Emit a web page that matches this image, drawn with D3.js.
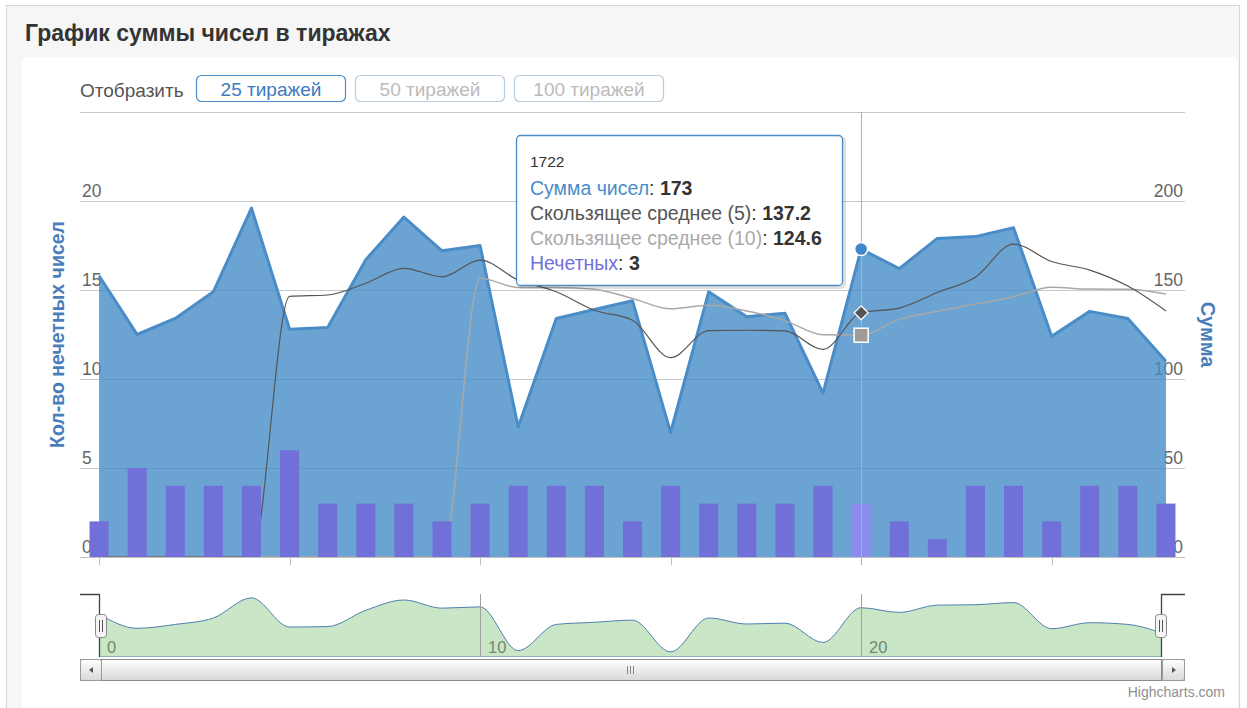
<!DOCTYPE html>
<html><head><meta charset="utf-8">
<script src="https://cdn.jsdelivr.net/npm/d3@7"></script>
<style>
html,body{margin:0;padding:0;background:#fff;}
svg{display:block;font-family:"Liberation Sans",Arial,sans-serif;}
</style></head><body>
<svg id="c" width="1247" height="708"></svg>
<script>
// ---- data ----
const draws = [1702,1703,1704,1705,1706,1707,1708,1709,1710,1711,1712,1713,1714,1715,1716,1717,1718,1719,1720,1721,1722,1723,1724,1725,1726,1727,1728,1729,1730];
const sums  = [158,125,134,149,196,128,129,167,191,172,175,73,134,139,144,70,149,135,137,92,173,162,179,180,185,124,138,134,110];
const odd   = [2,5,4,4,4,6,3,3,3,2,3,4,4,4,2,4,3,3,3,4,3,2,1,4,4,2,4,4,3];
const sma5  = [0,0,0,0,0,146.4,147.2,153.8,162.2,157.4,166.8,155.6,149,138.6,133,112,127.2,127.4,127,116.6,137.2,139.8,148.6,157.2,175.8,166,161.2,152.2,138.2];
const sma10 = [0,0,0,0,0,0,0,0,0,0,156.6,151.4,151.4,150.4,145.2,139.4,141.4,138.2,132.8,124.8,124.6,133.5,138,142.1,146.2,151.6,150.5,150.4,147.7];
const leftTicks  = [0,5,10,15,20,25];
const rightTicks = [0,50,100,150,200,250];
const xTicks   = [0,5,10,15,20,25];
const navTicks = [0,10,20];
const buttons  = ["25 тиражей","50 тиражей","100 тиражей"];
const seriesNames = ["Сумма чисел","Скользящее среднее (5)","Скользящее среднее (10)","Нечетных"];
const hoverIndex = 20;

// ---- layout ----
const svg = d3.select("#c");
const PL=80, PR=1185, PT=112, PB=557;
const C = {area:"#4a8cc8", areaFill:"rgb(70,140,200)", bar:"#7070d8", barHover:"#8c8cf0", sma5:"#555555", sma10:"#a8a8a8", grid:"#c8c8c8", label:"#666666", title:"#4a7ebb"};

// background frame
svg.append("rect").attr("x",0).attr("y",0).attr("width",1247).attr("height",708).attr("fill","#ffffff");
svg.append("rect").attr("x",6.5).attr("y",5.5).attr("width",1233).attr("height",710).attr("fill","#f6f6f6").attr("stroke","#d6d6d6");
svg.append("rect").attr("x",22).attr("y",57).attr("width",1216).attr("height",660).attr("rx",6).attr("fill","#ffffff");
svg.append("text").attr("x",25).attr("y",41).attr("font-size",23).attr("font-weight","bold").attr("fill","#333").text("График суммы чисел в тиражах");

// buttons
svg.append("text").attr("x",80).attr("y",97).attr("font-size",19).attr("fill","#555").text("Отобразить");
const bx = [196,355,514];
buttons.forEach((b,i)=>{
  const g = svg.append("g");
  g.append("rect").attr("x",bx[i]+0.5).attr("y",75.5).attr("width",149).attr("height",26).attr("rx",5)
    .attr("fill","#fff").attr("stroke", i===0?"#4a8cc8":"#b9cbdc").attr("stroke-width",1.2);
  g.append("text").attr("x",bx[i]+75).attr("y",95.5).attr("text-anchor","middle").attr("font-size",19)
    .attr("fill", i===0?"#3d7bbf":"#bbbbbb").text(b);
});

// scales
const x = d3.scaleLinear().domain([-0.5, draws.length-0.5]).range([PL,PR]);
const yL = d3.scaleLinear().domain([0,25]).range([PB,PT]);
const yR = d3.scaleLinear().domain([0,250]).range([PB,PT]);

// grid
const grid = svg.append("g");
leftTicks.forEach(t=>{
  grid.append("line").attr("x1",PL).attr("x2",PR).attr("y1",Math.round(yL(t))+0.5).attr("y2",Math.round(yL(t))+0.5)
    .attr("stroke",C.grid).attr("stroke-width",1);
});
// axis labels
leftTicks.filter(t=>t<25).forEach(t=>{
  svg.append("text").attr("x",82).attr("y",yL(t)-4).attr("font-size",17.5).attr("fill",C.label).text(t);
});
rightTicks.filter(t=>t<250).forEach(t=>{
  svg.append("text").attr("x",1183).attr("y",yR(t)-4).attr("text-anchor","end").attr("font-size",17.5).attr("fill",C.label).text(t);
});

// x ticks
xTicks.forEach(t=>{
  svg.append("line").attr("x1",Math.round(x(t))+0.5).attr("x2",Math.round(x(t))+0.5).attr("y1",PB).attr("y2",PB+8)
    .attr("stroke","#c0c0c0");
});

// area (sum)
const area = d3.area().x((d,i)=>x(i)).y0(PB).y1(d=>yR(d));
svg.append("path").datum(sums).attr("d",area).attr("fill",C.areaFill).attr("fill-opacity",0.8);
svg.append("path").datum(sums).attr("d",d3.line().x((d,i)=>x(i)).y(d=>yR(d)))
  .attr("fill","none").attr("stroke",C.area).attr("stroke-width",3).attr("stroke-linejoin","round");

// moving averages
const sline = d3.line().x((d,i)=>x(i)).y(d=>yR(d)).curve(d3.curveMonotoneX);
svg.append("path").datum(sma10).attr("d",sline).attr("fill","none").attr("stroke",C.sma10).attr("stroke-width",1.5);
svg.append("path").datum(sma5).attr("d",sline).attr("fill","none").attr("stroke",C.sma5).attr("stroke-width",1.2);

// bars
const bw = 19;
svg.append("g").selectAll("rect").data(odd).join("rect")
  .attr("x",(d,i)=>x(i)-bw/2).attr("width",bw)
  .attr("y",d=>yL(d)).attr("height",d=>PB-yL(d))
  .attr("fill",(d,i)=>i===hoverIndex?C.barHover:C.bar);

// x axis line
svg.append("line").attr("x1",PL).attr("x2",PR).attr("y1",PB+0.5).attr("y2",PB+0.5).attr("stroke","#c0c0c0");

// crosshair
const hx = Math.round(x(hoverIndex))+0.5;
svg.append("line").attr("x1",hx).attr("x2",hx).attr("y1",PT).attr("y2",PB+8).attr("stroke","#b0b0b0").attr("stroke-width",1);

// axis titles
svg.append("text").attr("transform",`translate(64,${(PT+PB)/2+0}) rotate(-90)`).attr("text-anchor","middle")
  .attr("font-size",19.5).attr("font-weight","bold").attr("fill",C.title).text("Кол-во нечетных чисел");
svg.append("text").attr("transform",`translate(1201,${(PT+PB)/2-0}) rotate(90)`).attr("text-anchor","middle")
  .attr("font-size",20).attr("font-weight","bold").attr("fill",C.title).text("Сумма");

// hover markers
svg.append("circle").attr("cx",x(hoverIndex)).attr("cy",yR(sums[hoverIndex])).attr("r",6.5)
  .attr("fill","#3f88cc").attr("stroke","#fff").attr("stroke-width",1.5);
const dx = x(hoverIndex), dy = yR(sma5[hoverIndex]);
svg.append("path").attr("d",`M${dx},${dy-7}L${dx+7},${dy}L${dx},${dy+7}L${dx-7},${dy}Z`)
  .attr("fill","#555").attr("stroke","#fff").attr("stroke-width",1.2);
const qy = yR(sma10[hoverIndex]);
svg.append("rect").attr("x",dx-7).attr("y",qy-7).attr("width",14).attr("height",14)
  .attr("fill","#a09a98").attr("stroke","#fff").attr("stroke-width",1.5);

// tooltip
const tt = svg.append("g");
tt.append("rect").attr("x",518.5).attr("y",137.5).attr("width",326).attr("height",150).attr("rx",4)
  .attr("fill","none").attr("stroke","rgba(0,0,0,0.12)").attr("stroke-width",3);
tt.append("rect").attr("x",516.5).attr("y",135.5).attr("width",326).attr("height",150).attr("rx",4)
  .attr("fill","rgba(255,255,255,0.93)").attr("stroke","#4a8cc8").attr("stroke-width",1.3);
tt.append("text").attr("x",530).attr("y",167).attr("font-size",15.5).attr("fill","#333").text(draws[hoverIndex]);
const rows = [
  [seriesNames[0], "#4a8cc8", sums[hoverIndex]],
  [seriesNames[1], "#555555", sma5[hoverIndex]],
  [seriesNames[2], "#aaaaaa", sma10[hoverIndex]],
  [seriesNames[3], "#7070d8", odd[hoverIndex]]
];
rows.forEach((r,i)=>{
  const t = tt.append("text").attr("x",530).attr("y",195+i*25).attr("font-size",19.5).attr("fill","#333");
  t.append("tspan").attr("fill",r[1]).text(r[0]);
  t.append("tspan").text(": ");
  t.append("tspan").attr("font-weight","bold").text(r[2]);
});

// navigator
const NT=594, NB=657;
const ny = d3.scaleLinear().domain([58,205]).range([NB,NT]);
svg.append("defs").append("clipPath").attr("id","navclip").append("rect")
  .attr("x",x(0)).attr("y",NT-5).attr("width",1162-x(0)).attr("height",NB-NT+5);
const nav = svg.append("g");
const narea = d3.area().x((d,i)=>x(i)).y0(NB).y1(d=>ny(d)).curve(d3.curveMonotoneX);
nav.append("g").attr("clip-path","url(#navclip)").append("path").datum(sums).attr("d",narea)
  .attr("fill","#c9e6c6").attr("stroke","#4f7fb0").attr("stroke-width",1);
navTicks.forEach(t=>{
  const xx = Math.round(x(t))+0.5;
  if(t>0) nav.append("line").attr("x1",xx).attr("x2",xx).attr("y1",NT).attr("y2",NB).attr("stroke","#a0a0a0");
  nav.append("text").attr("x",x(t)+8).attr("y",653).attr("font-size",16.5).attr("fill","#6f8a6f").text(t);
});
// outline
nav.append("path").attr("d",`M${PL},${NT+0.5}H99.5V${NB}`).attr("fill","none").attr("stroke","#444").attr("stroke-width",1.3);
nav.append("path").attr("d",`M1161.5,${NB}V${NT+0.5}H${PR}`).attr("fill","none").attr("stroke","#444").attr("stroke-width",1.3);
// handles
[101,1161].forEach(hx2=>{
  nav.append("rect").attr("x",hx2-5.5).attr("y",614.5).attr("width",11).attr("height",23).attr("rx",3)
    .attr("fill","#f4f4f4").attr("stroke","#888");
  nav.append("line").attr("x1",hx2-1.5).attr("x2",hx2-1.5).attr("y1",620).attr("y2",632).attr("stroke","#555");
  nav.append("line").attr("x1",hx2+1.5).attr("x2",hx2+1.5).attr("y1",620).attr("y2",632).attr("stroke","#555");
});
// scrollbar
const grad = svg.select("defs").append("linearGradient").attr("id","sg").attr("x1",0).attr("y1",0).attr("x2",0).attr("y2",1);
grad.append("stop").attr("offset","0").attr("stop-color","#ffffff");
grad.append("stop").attr("offset","1").attr("stop-color","#d8d8d8");
svg.append("rect").attr("x",80.5).attr("y",659.5).attr("width",1104).attr("height",21).attr("fill","#eeeeee").attr("stroke","#9a9a9a");
svg.append("rect").attr("x",101.5).attr("y",659.5).attr("width",1060).attr("height",21).attr("fill","url(#sg)").attr("stroke","#8a8a8a");
svg.append("rect").attr("x",80.5).attr("y",659.5).attr("width",21).attr("height",21).attr("rx",2).attr("fill","url(#sg)").attr("stroke","#9a9a9a");
svg.append("rect").attr("x",1162.5).attr("y",659.5).attr("width",22).attr("height",21).attr("rx",2).attr("fill","url(#sg)").attr("stroke","#9a9a9a");
svg.append("path").attr("d","M93,667L89,670L93,673Z").attr("fill","#555");
svg.append("path").attr("d","M1172,667L1176,670L1172,673Z").attr("fill","#555");
[627.5,630.5,633.5].forEach(gx=>{
  svg.append("line").attr("x1",gx).attr("x2",gx).attr("y1",666).attr("y2",674).attr("stroke","#888");
});
// credit
svg.append("text").attr("x",1225).attr("y",697).attr("text-anchor","end").attr("font-size",14).attr("fill","#909090").text("Highcharts.com");
</script>
</body></html>
